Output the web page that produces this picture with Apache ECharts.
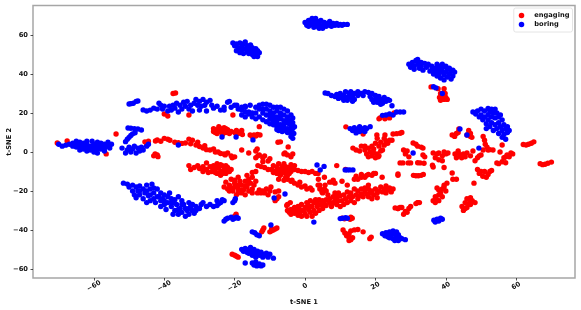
<!DOCTYPE html>
<html><head><meta charset="utf-8">
<script src="https://cdn.jsdelivr.net/npm/echarts@6/dist/echarts.min.js"></script>
<style>html,body{margin:0;padding:0;background:#fff}#c{width:581px;height:310px}</style></head>
<body><div id="c"></div>
<script>
const xTicks=[-60,-40,-20,0,20,40,60];
const yTicks=[-60,-40,-20,0,20,40,60];
const seriesNames=['engaging','boring'];
const engaging=[
[-70.4,4.6],[-67.6,5.6],[-53.7,9.2],[-56.5,-1],[-42.6,-1],[-37.5,30],[-36.8,30.3],[-39,18.5],[-40,19.5],[-33,19],[-20.5,19],[-13,13],
[-45.5,5.2],[-45,3.5],[-44.5,5.5],[-42.5,5.6],[-42,6.2],[-41,5.5],[-40,7],[-39,6.5],[-38.4,6],[-37,5],[-36,4.7],[-35,4.4],[-34,4.6],[-33,6.6],[-32.5,4.2],[-32,6],[-31,3.6],[-30.5,5],[-30,2.8],[-29,2],[-28.5,3.2],[-28,1.2],[-27,1],[-26,1.5],[-25.5,0],[-24.7,0],[-24,-0.8],[-23,-1],[-22.7,-1.5],[-22,-0.5],[-21,-2],[-20.7,-3],[-20,-2.5],
[-18,1],[-16,-0.5],[-13.6,1.5],[-13.4,-2],[-12,-3],[-11.5,-2],[-10.5,-4.6],[-10,-3.5],[-14,0.5],[-7.7,5],[-7,5.2],[-5.7,-0.5],[-4.8,2.6],[-6,-1],[-5,-1.5],[-4,-2.5],[-3.5,-1],
[-43,-2],[-41.8,-2.4],[-42,-1.5],
[-26,12],[-25.5,10],[-25,11.5],[-25,9.5],[-24.5,13],[-24,10.5],[-24,12],[-23.5,9],[-23,11],[-23,12.5],[-22.5,10],[-22,11.5],[-21.5,9.5],[-21,10.5],[-20,10],[-19.5,11],[-19,9.5],[-18.5,10],[-18,11],[-17.8,9],[-15.6,8.7],[-15,8],[-14.5,8.7],[-14,8.2],[-13.5,9],[-12.8,8.7],[-24.5,11],[-23.5,11.5],[-22.5,12],[-26,10.5],
[-33,-7],[-32.5,-9],[-31.5,-8],[-30.5,-7],[-30,-8.5],[-29,-7.5],[-28,-5.6],[-28,-9],[-27,-7.5],[-26.5,-10],[-26,-7],[-25.5,-9],[-25,-11],[-25,-6],[-24.5,-8],[-24,-10],[-24,-12],[-23.5,-7],[-23,-9],[-22.5,-11],[-22,-8],[-21.5,-10],[-21,-9],[-29,-10],[-27.5,-10.5],[-26,-8.5],[-25,-8],[-24,-6.5],[-23.5,-11],[-22.5,-7],[-22,-9.5],[-25.5,-10.5],
[-23,-18],[-22.5,-15.5],[-22,-19],[-21.5,-17],[-21,-14],[-20.5,-20],[-20,-16],[-20,-18],[-19.5,-22],[-19,-13],[-19,-19],[-18.5,-15],[-18,-17],[-18,-21],[-17.5,-19.5],[-17,-15],[-17,-22],[-16.5,-12],[-16.5,-18],[-16,-20],[-16,-14],[-15.5,-16],[-15,-19],[-15,-13],[-15,-10.5],[-14.5,-17],[-14,-10],[-14,-15],[-13.5,-21],[-13,-19.5],[-12.5,-21],[-12,-20],[-11.5,-21],[-11,-19],[-10.5,-22],[-10,-20],[-9.7,-18],[-21,-18.5],[-20,-14.5],[-19,-17],[-18,-19.5],[-17,-17.5],[-16,-16],[-15,-21],[-21.5,-20],[-19,-21],
[-14,-3],[-13,-1.5],[-12,-5],[-13.4,-7],[-12.5,-7.5],[-11.5,-8],[-10.5,-9],[-9.5,-9],[-9,-7],[-8.5,-10],[-8,-8],[-8,-11],[-7.5,-6],[-7,-9],[-7,-12],[-6.5,-7.5],[-6.5,-10.5],[-6,-9],[-6,-6],[-5.5,-11],[-5.5,-7.5],[-5,-9.5],[-5,-12],[-4.5,-8],[-4,-6.5],[-4,-10],[-3.5,-8],[-3,-9],[-3,-7],[-2,-9.5],[-1,-10],[0,-10],[1,-10.5],[2,-10],[3,-11],[3.7,-11],[-7.5,-14],[-6,-14.5],[-5,-14],[-4,-15],[-7.5,-10],[-6.5,-9],[-5.5,-13],[-4.5,-11],[-9,-10.5],
[-3.7,-14.5],[-3,-16],[-2,-17],[-1.5,-15.5],[-1,-18],[0,-17.5],[0.5,-19],[1.5,-18.5],[2,-19.5],[3.7,-17],[4.2,-17],[5.7,-17],[4.8,-20.6],[4.2,-19],[5.5,-19],[5,-21],[6,-20],[3.8,-14],[5.5,-13],
[-8.5,-20.5],[-7.5,-20],[-8,-24],[-8.5,-25],[-7.5,-23],[-5,-27],[-4.2,-26],[-5.2,-27.5],
[-19.6,-32],[-20,-33],[-12,-40],[-12.3,-41],[-11.7,-39],[-10,-41],[-9.5,-40.5],[-9,-40],[-8.5,-39.5],[-8,-39],[-9.5,-39.5],[-20.7,-52.5],[-20,-53],[-19.5,-53.5],[-19,-54],
[-5,-30],[-4.5,-31],[-4,-29.5],[-4,-32],[-3.5,-30.5],[-3,-28.5],[-3,-31.5],[-2.5,-30],[-2,-32.5],[-2,-28],[-1.5,-29.5],[-1.5,-31],[-1,-27],[-1,-33],[-0.5,-30],[0,-28.5],[0,-31.5],[0.5,-26],[0.5,-33],[1,-29.5],[1,-27.5],[1.5,-31],[1.5,-25],[2,-33],[2,-28],[2.5,-30],[2.5,-26],[3,-31.5],[3,-24.5],[3.5,-28],[3.5,-26.5],[4,-30],[4,-24.5],[4.5,-27],[5,-29],[5,-25],[5.5,-26.5],[6,-24.5],[6,-27.5],
[6.5,-22],[7,-26],[7,-24],[7.5,-28],[8,-23],[8,-26],[8.5,-21],[8.5,-25],[9,-23],[9,-27],[9.5,-21],[9.5,-25],[10,-22.5],[10,-28],[10.5,-25],[11,-22],[11,-27],[11.5,-24],[12,-20.5],[12,-26],[12.5,-23],[13,-21],[13,-25],[13.5,-23],[14,-19],[14,-26],[14.5,-22],[15,-20],[15,-24],[15.5,-22.5],[16,-19],[16,-21.5],[16.5,-23],[17,-20],[17,-18.5],[17.5,-21.5],[18,-23],[18,-19],[18.5,-21],[19,-24],[19,-20],[19.5,-22],[20,-19],[20.5,-21],[20.5,-23.5],[21,-20],[21.5,-18],[22,-20.5],[22.5,-19],[23,-21],[23,-17.5],[23.5,-19.5],[24,-18.5],[24.5,-20.5],[25,-19],[18,-17],
[14,-14],[14.5,-12.5],[15,-14],[16,-13],[16,-11.5],[17,-13],[17.5,-12],[18,-11.5],[19,-12],[19.5,-11],[20,-11],[21.9,-13],[26.4,-12],[26.4,-11.3],[30.8,-12],[31.5,-12.2],[32.2,-12.2],[33,-12],[33.6,-11.5],
[7.7,-15.4],[8,-14.5],[7,-15.5],[8.5,-16],[10.5,-15],[12,-17],[11.5,-9],[9,-7],
[25.6,-28.7],[26.4,-29],[27,-28.5],[27.5,-28.5],[28,-32],[28.5,-30.5],[29,-31],[29.5,-29],[30,-28],[32,-26],[32.5,-26],[31.5,-26.5],
[10.5,-34],[13.4,-34],[12.8,-34.5],[13,-33.5],[10.8,-40],[13,-40.5],[14,-40],[15,-39.8],[11.3,-41.6],[11.8,-43],[12.5,-42],[12.5,-44],[13,-45],[13.5,-44],[12.5,-45.5],[16.5,-41],[18.8,-43.7],[18.4,-44.5],
[11.6,12.9],[16.5,9.2],[13.6,2],[14.5,1],[15.5,0.5],[16,3],[17,1],[17,3],[17.5,-1],[18,2],[18.5,0],[18,-2.5],[19,-2],[19.5,-0.5],[19.5,1.5],[20,-3],[20.5,-1],[21,-2],[21.5,0.5],[20.8,-2.5],[22,1],
[19,3],[20,4.5],[21,3],[21.5,5],[22.5,3.5],[23,5.5],[23.5,4.5],[24,6],[24.7,6],[20.4,8.7],[20.5,7],[22.7,8.7],[22.5,7],[25,9.2],[26,9.4],[27,9.6],[27.5,10],[21.3,17.5],[22.7,17],[24,17.5],[25.3,20],
[28,1],[28.5,-1],[29,0.5],[29.5,-2.5],[30.7,4.6],[31.5,4],[32,3],[33,2.5],[33.5,2],[34,-2.5],[33.5,-1.5],[27,-5.6],[27.8,-5.6],[30,-5.6],[29.3,-5.6],[32.7,-5.6],[32,-5.5],[33.8,-5.8],
[36.4,-0.5],[37,-3],[37.5,-1],[38,-4],[38,-0.5],[39,-2],[39,-4.5],[39.5,0],[40,-1],[40.6,-0.5],[36.4,-7.7],[36.2,-6.8],[39.5,-8],[41.8,-10.8],[42,-14],[43,-14],[40.3,-16],[39.5,-17],
[36.4,-25],[37,-26],[37,-23],[37.5,-24.5],[38,-22],[38,-25],[38,-19.5],[38.5,-21],[39,-23],[39,-19],[37.5,-18.5],[39.5,-18],[40,-20],[32,-26],[26.4,-29],
[42.6,-1],[43,-3],[43.5,0.5],[44,-1.5],[44.5,-3],[45,-1],[45.5,-2.5],[46,-0.5],[47,-2],[47.7,0.5],[41.8,8.7],[42.5,8],[43,9.5],[43.5,10],[43.7,11.8],[46,8.7],[46.5,11],[47,9.5],[47.4,7.5],[47,8],
[48.3,-4.5],[49,-3],[49.5,-2],[50,-1.5],[50.6,8],[51,6],[51.2,4],[51.7,2.5],[50.6,1],[52,1],[53.4,1],[52.5,1.2],[56,3.6],[55.4,0],
[54.5,-5.6],[55,-6],[56,-5],[56.5,-3],[57,-5.5],[57.4,-1.5],[58,-2.5],[58.5,-0.5],[59,-1],[57,-2.5],
[49,-9],[49.5,-11],[50,-10],[50.5,-12.5],[51,-10],[51.5,-13],[52,-11.5],[52.5,-10],[53,-9.5],[48,-16],
[62,3.8],[62.8,3.6],[63.5,4],[64.3,4.5],[65,5.2],[66.8,-6],[67.5,-6.5],[68.2,-6.3],[69,-5.8],[70,-5.2],
[44.6,-28],[45,-30],[45.5,-26],[46,-28.5],[46,-24],[46.5,-26.5],[47,-23.5],[47,-27],[47.5,-25],[48.3,-26],[45.5,-29],[47,-25.5],
[35.8,33.4],[37.8,32.5],[38.5,30],[38.2,28],[38.5,26.5],[39,28],[39.5,27],[40,28],[40.4,27],[39.5,32.5],[39.8,30],
[21,17],[43.5,-0.5],[11.2,-34.3]
];
const boring=[
[-70,4],[-69,3],[-68,3.5],[-67,4],[-66,4.5],[-65,4],[-65,2.5],[-64,3],[-64,5],[-63,4.5],[-63,1.5],[-62,4],[-62,5.5],[-62,2],[-61,3],[-61,1],[-60,4],[-60,2],[-60,0],[-59,5],[-59,3],[-59,1.5],[-59,-0.5],[-58,3],[-58,4.5],[-58,1.5],[-57,4],[-57,2],[-56,3],[-56,5],[-55,4],[-61,2.5],[-66,3],[-63,3],[-64,1],[-62,0.5],[-57,0.5],[-60.5,5.5],[-65,5.5],[-55.5,2],
[-50.3,12.3],[-49.5,12.2],[-48.5,12],[-47.5,11.8],[-46.5,11.3],[-48.3,9.9],[-49,9.3],[-49.5,8.5],[-50,7.5],[-50.5,6.5],[-51,5.3],[-52,2],[-51,-0.5],[-50.5,1],[-50,2.5],[-49.5,0],[-49,1.5],[-48.5,3],[-48,-0.5],[-47.5,2],[-47,0.5],[-46.5,2.5],[-46,1],[-45,3],[-44.5,4],
[-50,24.6],[-49.5,24.8],[-48.8,25],[-48,26],[-47.5,26.2],
[-46,21.6],[-45,21],[-44,21.5],[-43,22.5],[-42,22],[-41,24],[-41.5,25],[-40.5,22],[-40,23.5],[-39,21],[-38.5,23.5],[-38,21.5],[-37.5,24],[-37,22.5],[-36.5,25],[-36,20.5],[-35.5,24],[-35,22],[-34.5,25.5],[-34,23.5],[-33.5,26],[-33,22],[-32.5,24],[-32,21],[-31.5,25],[-31,27],[-30.5,24],[-30,26],[-30,21.5],[-29.5,23.5],[-29,27],[-28.5,24],[-28,21],[-28,25.5],[-27,26.5],[-26.5,24],[-26,22.5],[-25,23.5],[-24,21.5],[-23,21.5],[-23,23],[-22,25.5],[-21.5,26],[-21,23],[-20,24],[-19,22],[-18,21.5],[-17,23.5],[-16,20.5],
[-19.4,24],[-18,23],[-17,23],[-15.6,24],[-14,23],[-13,24],[-12,24.5],[-11,24.5],[-10,24],[-9,23],[-8,23],[-7,23],[-6,22],[-5,21],[-4,19],[-3.5,17.5],[-3.5,15],
[-18,19],[-17,18],[-16,19.5],[-17,20.5],[-15,20],[-15,18],[-14,17],[-14,20],[-13,22],[-13,18],[-12,16.5],[-12,20],[-11,22],[-11,19],[-11,15.5],[-10,21],[-10,17],[-10,14.5],[-9,20],[-9,16],[-9,14],[-8,21],[-8,18],[-8,15],[-8,13],[-7,20],[-7,17],[-7,14],[-7,12],[-6,19],[-6,16],[-6,13],[-6,11],[-5,18],[-5,15],[-5,12],[-5,10],[-4,16],[-4,13],[-4,10],[-3.5,12],[-4,8],[-3.5,7],[-3.2,9.5],[-3,13],[-6.5,10.5],[-7.5,11],[-8,11.5],[-12,22],[-10,19],[-9,18],[-7,18.5],[-5,16.5],[-4.5,14.5],[-6,14.5],[-8,16.5],[-4.5,11.5],
[-23.6,7.7],[-19.6,7.7],[-14.8,6.2],[-36,3.6],
[-20.5,56],[-20,54.5],[-19.5,52],[-19.5,55.5],[-19,53.5],[-18.5,56],[-18.5,51],[-18,54],[-18,52.5],[-17.5,55.5],[-17.5,50.5],[-17,53],[-17,56.5],[-16.5,51.5],[-16.5,54.5],[-16,53],[-16,50.5],[-15.5,55],[-15.5,52],[-15,53.5],[-15,50],[-14.5,51.5],[-14.5,49],[-14,53],[-14,50.5],[-13.5,52],[-13.5,49],[-13,51],
[0,66.5],[0.5,65],[1,67.5],[1,64.5],[1.5,66],[2,68.5],[2,65.5],[2.5,67],[2.5,64],[3,66],[3,68.5],[3.5,64.5],[3.5,67],[4,65.5],[4,63.5],[4.5,67.5],[5,65],[5,63.5],[5.5,66.5],[6,64.5],[6.5,66],[7,65],[7,67],[7.5,64.5],[8,66],[8.5,65],[9,66],[9.5,65],[10,65.5],[10.5,65],[11,65.5],[12,65.5],
[29.5,45],[30,43.5],[30.5,46],[31,44],[31,42.5],[31.5,47],[32,45],[32,47.5],[32.5,43],[33,46],[33,44],[33.5,42],[34,45.5],[34.5,43.5],[35,45],[35.5,41.5],[36,44],[36,42],[36.5,40],[37,43],[37,41],[37.5,39],[37.5,45],[38,42],[38,40],[38,44],[38.5,38],[39,45],[39,41],[39,43],[39.5,39.5],[39.5,37],[40,44],[40,41],[40.5,38.5],[40.5,42.5],[41,43],[41,40],[41.5,37.5],[41.5,41.5],[42,42],[42.5,41],[42,39],
[5.7,30.3],[6.5,30],[7.5,29],[8.5,28.5],[9,29.5],[9.5,27.5],[10,30],[10.5,28],[11,26.5],[11,29],[11.5,31],[12,28],[12,26.5],[12.5,30],[13,28],[13,31],[13.5,26],[13.5,29],[14,30],[14,27],[15,29],[15,31],[16,30],[16.5,29],[17,31],[18,30.5],[18.5,28.5],[19,30],[19,27],[19.5,25.5],[20,29],[20,27],[20.5,25.5],[21,28.5],[21,26],[21.5,24.5],[22,27],[22,25],[22.5,28],[23,26],[23.5,27],[24,26.5],
[24.7,23.7],[22,18.8],[23,19],[24,19.5],[25,19],[26,20.5],[27,20.5],[28,20.5],[37.2,32.9],[36.5,33.5],[39,30],[44,11.8],[46,8.7],[49.4,2],[30.7,-0.5],
[12.8,12],[13.5,11],[14,12.5],[14.5,11],[14.5,9.8],[15,11.5],[15.5,13],[15.5,10.5],[16,12],[16.5,11],[17,12.5],[17,10.5],[17.5,12],[18.5,13],
[47.7,20.5],[48.5,19.5],[49,21],[49.5,18],[50,22],[50,19],[50.5,16.5],[51,21],[51,18],[51.5,14.5],[51.5,12],[52,22.3],[52,19],[52,16.5],[52.5,13],[52.5,20.5],[53,22],[53,18],[53,15],[53.5,20],[53.5,11],[54,17.5],[54,22],[54,14],[54.5,20],[54.5,12],[55,18],[55,15],[55,9.5],[55.5,13],[55.5,19],[56,16.5],[56,11],[56,7.5],[56.5,14],[56.5,9],[57,12],[57,6.5],[57.5,10],[57.5,13],[58,11],
[-51.6,-16],[-50.5,-16.5],[-50,-18],[-49,-17],[-49,-20],[-48.5,-22],[-48,-18],[-48,-23.5],[-47.5,-20],[-47,-17.5],[-47,-22],[-46,-19],[-46,-24],[-45.5,-21],[-45,-26],[-45,-17],[-44.5,-22.5],[-44,-19],[-44,-25],[-43.5,-16.5],[-43,-21],[-43,-24],[-42.5,-26],[-42,-19],[-42,-23],[-41,-21],[-41,-25],[-41,-28],[-40,-22],[-40,-27],[-40.5,-24],[-39.5,-29.5],[-39,-23],[-39,-26],[-38.5,-21],[-38,-24],[-38,-28],[-37.5,-26],[-37,-30],[-37.5,-32],[-36,-23],[-36.5,-27],[-36,-32],[-35.5,-29],[-35,-25],[-35,-31],[-34.5,-27],[-34,-33],[-33.5,-30],[-33,-26],[-33,-32],[-32.5,-28],[-32,-30],[-31.5,-31.5],[-33,-29],[-32,-27],[-31,-28],[-30,-29],[-29.5,-27],[-29,-26],[-28,-28],[-27,-27],[-26,-28],[-25,-27.5],[-24.5,-26.5],[-24,-26],[-25,-25],[-23.5,-24.5],[-23,-25],[-20.5,-26],[-20,-25],[-19.8,-24],[-47,-20],[-45,-20],[-44,-22],[-43,-18.5],[-41.5,-23],[-40,-25],[-38,-26],[-37,-24.5],[-35,-27],[-34,-29],[-36,-29.5],[-31,-30],
[-23,-35.5],[-22.5,-34.5],[-22,-34],[-21,-33.5],[-20.5,-34.5],[-20,-34],[-19.5,-33.5],[-19,-34],
[-15,-41],[-14.3,-41.5],[-13.7,-42.5],[-13,-43],
[-18,-50],[-17.5,-51],[-17,-49.5],[-16.5,-51.5],[-16,-50],[-16,-52],[-15.5,-49],[-15,-51],[-15,-53],[-14.5,-50],[-14,-52],[-14,-54],[-13.5,-51],[-13,-53],[-12.5,-51.5],[-12,-54],[-12,-52.5],[-11.5,-53],[-11,-52],[-10.5,-54],[-10,-52.5],[-9,-54.5],
[-17,-57],[-15,-57],[-14.5,-58],[-14,-56.5],[-13.7,-58.5],[-13,-57.5],[-12.5,-58.5],[-12,-58],
[22,-42],[22.7,-43],[23,-41.5],[23.5,-43.5],[24,-41],[24,-44],[24.5,-42.5],[25,-40.5],[25,-44.5],[25.5,-42],[25.5,-45.5],[26,-41],[26,-44],[26.5,-45.5],[26.5,-42.5],[27,-44],[27.5,-44.5],[28.5,-45],[24,-42.5],[26,-43],
[36.6,-35],[37,-36],[37.5,-34.5],[38,-35.5],[38.5,-34],[39,-34.5],
[10,-34.2],[10.7,-34],[11.5,-33.8],[12,-34],
[2.5,-36],[3.4,-6.7],[4.3,-9.2],[5.4,-7.4],[11.4,-9.2],[12,-9.2],[12.7,-9.2],[13.6,-9.2],
[-5.7,-21.6],[-8.8,-23.6],[-9.7,-37.5]
];

const chart=echarts.init(document.getElementById('c'),null,{renderer:'canvas'});
const fmt=v=>String(v).replace('-','\u2212');
const font={fontFamily:'DejaVu Sans',fontWeight:'bold',fontSize:6.7,color:'#111'};
chart.setOption({
  animation:false,
  backgroundColor:'#fff',
  grid:{left:33,right:6,top:5.5,bottom:32,outerBoundsMode:'none',show:true,borderColor:'#a6a6a6',borderWidth:1.5,backgroundColor:'#fff'},
  legend:{
    data:seriesNames,orient:'vertical',right:8.5,top:8,
    icon:'circle',itemWidth:5.5,itemHeight:5.5,itemGap:2,
    padding:[4,3,4,5],
    backgroundColor:'#fff',borderColor:'#e4e4e4',borderWidth:1,borderRadius:2,
    textStyle:Object.assign({padding:[0,0,0,5]},font)
  },
  xAxis:{
    type:'value',min:-77.3,max:76.7,
    name:'t-SNE 1',nameLocation:'middle',nameGap:21,nameMoveOverlap:false,
    nameTextStyle:font,
    splitLine:{show:false},
    axisLine:{show:false,onZero:false},
    axisTick:{show:true,length:2.5,customValues:xTicks,lineStyle:{color:'#222',width:0.8}},
    axisLabel:Object.assign({customValues:xTicks,rotate:30,margin:8,align:'center',verticalAlign:'middle',formatter:fmt},font)
  },
  yAxis:{
    type:'value',min:-64.7,max:75.2,
    name:'t-SNE 2',nameLocation:'middle',nameGap:20,nameMoveOverlap:false,
    nameTextStyle:font,
    splitLine:{show:false},
    axisLine:{show:false,onZero:false},
    axisTick:{show:true,length:2.5,customValues:yTicks,lineStyle:{color:'#222',width:0.8}},
    axisLabel:Object.assign({customValues:yTicks,margin:5,formatter:fmt},font)
  },
  series:[
    {name:seriesNames[0],type:'scatter',data:engaging,symbolSize:5.4,itemStyle:{color:'#ff0000',opacity:1}},
    {name:seriesNames[1],type:'scatter',data:boring,symbolSize:5.4,itemStyle:{color:'#0000ff',opacity:1}}
  ]
});
</script></body></html>
